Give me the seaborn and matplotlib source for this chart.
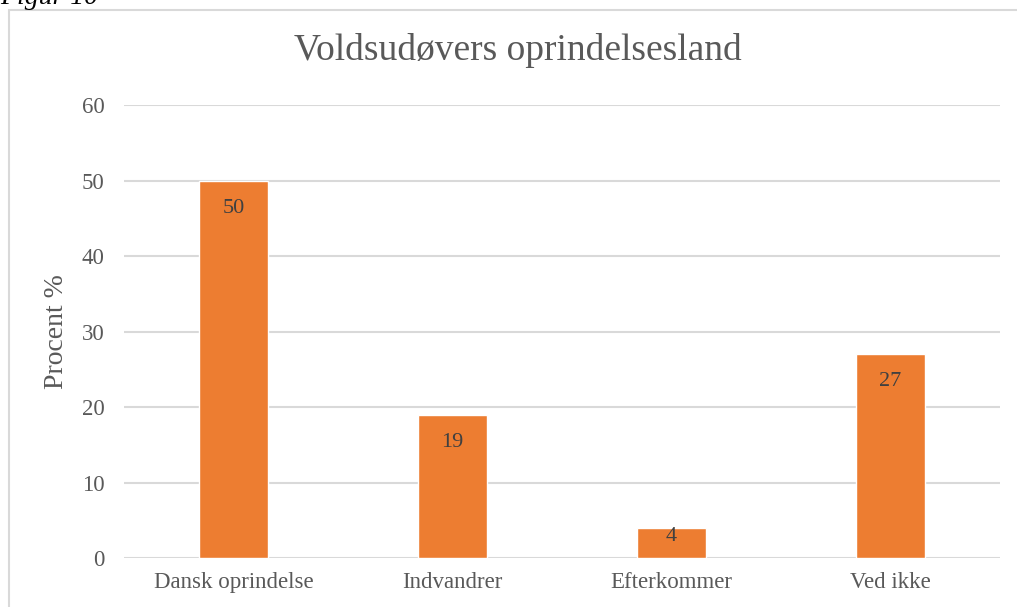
import matplotlib.pyplot as plt
import matplotlib.patches as mpatches
import seaborn as sns
import pandas as pd

# data
categories = ["Dansk oprindelse", "Indvandrer", "Efterkommer", "Ved ikke"]
procent = [50, 19, 4, 27]

sns.set_theme(style="white")
plt.rcParams['font.family'] = ['Liberation Serif', 'DejaVu Serif']

df = pd.DataFrame({"kategori": categories, "procent": procent})

fig = plt.figure(figsize=(10.17, 6.07), dpi=100)
ax = fig.add_axes([0.1219, 0.0807, 0.8609, 0.7463])

# ramme om diagrammet
frame = mpatches.Rectangle((9 / 1017, -0.05), 1.2, 1 - 10 / 607 + 0.05,
                           transform=fig.transFigure, fill=False,
                           edgecolor='#d9d9d9', linewidth=1.5)
fig.patches.append(frame)
fig.text(0.0, 1 - 4 / 607, "Figur 10", fontsize=20, style='italic',
         color='#000000', va='baseline', ha='left')

sns.barplot(data=df, x="kategori", y="procent", color='#ED7D31',
            width=0.315, saturation=1, ax=ax, zorder=3)

ax.set_ylim(0, 60)
ax.set_xlim(-0.5, 3.5)
ax.set_yticks(range(0, 61, 10))
ax.yaxis.grid(True, color='#d9d9d9', linewidth=1.5, zorder=0)
ax.set_axisbelow(True)
for s in ax.spines.values():
    s.set_visible(False)
ax.tick_params(axis='both', length=0, labelsize=16.5, colors='#595959')
ax.tick_params(axis='y', pad=14)
ax.tick_params(axis='x', pad=10)
ax.set_xlabel("")
ax.set_ylabel("Procent %", fontsize=20, color='#595959', labelpad=9)

for i, v in enumerate(procent):
    off = -20 if v > 5 else -6
    ax.annotate(str(v), (i, v), xytext=(0, off), textcoords='offset points',
                ha='center', va='center', fontsize=16, color='#404040', zorder=4)

fig.text(518 / 1017, 1 - 50 / 607, "Voldsudøvers oprindelsesland",
         fontsize=27, color='#595959', ha='center', va='center')

fig.savefig("out.png", dpi=100)
